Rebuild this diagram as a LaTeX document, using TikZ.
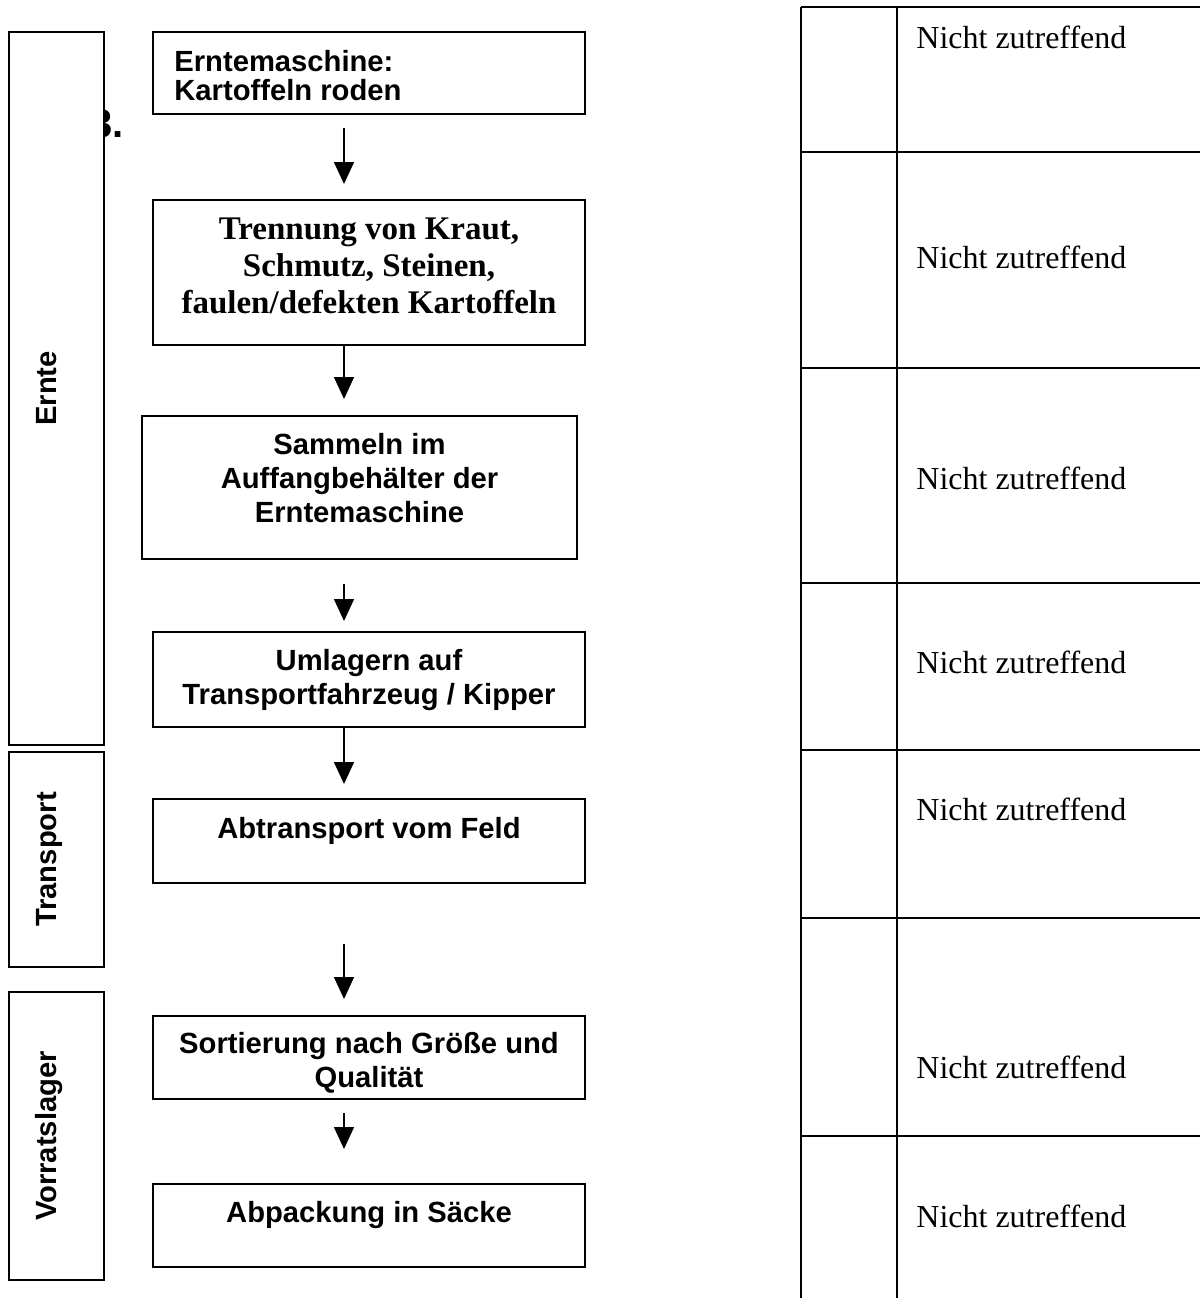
\documentclass[tikz,border=0pt]{standalone}
\usepackage{fontspec}
\setmainfont{Liberation Serif}
\setsansfont{Liberation Sans}
\usetikzlibrary{arrows.meta,positioning}

\tikzset{
  stepbox/.style={draw, line width=1pt, minimum width=216pt, inner sep=0pt},
  steptext/.style={font=\sffamily\bfseries\fontsize{14.6}{17}\selectfont, align=center, inner sep=0pt},
  serifstep/.style={font=\bfseries\fontsize{16.5}{18.5}\selectfont, align=center, inner sep=0pt},
  phase/.style={draw, fill=white, line width=1pt, rotate=90, minimum height=47.5pt, inner sep=0pt,
    font=\sffamily\bfseries\fontsize{14.6}{17}\selectfont, text height=10.5pt, text depth=10.5pt},
  flow/.style={line width=0.75pt, -{Triangle[width=10pt,length=11pt]}},
  grid/.style={line width=1pt},
  cell/.style={font=\fontsize{16}{19}\selectfont, anchor=west, inner sep=0pt}
}

\begin{document}
\begin{tikzpicture}[x=0.5pt,y=-0.5pt]
    \useasboundingbox (0,0) rectangle (1200,1298);

    % number, half hidden behind the first phase box
    \node[font=\sffamily\bfseries\fontsize{20}{24}\selectfont, anchor=base east, inner sep=0pt] (num) at (124,137) {3.};

    % Phases on the left
    \node[phase, minimum width=356.5pt] (ernte) at (56.5,388.5) {Ernte};
    \node[phase, minimum width=107.5pt] (transport) at (56.5,859.5) {Transport};
    \node[phase, minimum width=144pt] (lager) at (56.5,1136) {Vorratslager};

    % Process steps
    \node[stepbox, minimum height=41pt] (b1) at (369,73) {};
    \node[steptext, font=\sffamily\bfseries\fontsize{14.6}{14.6}\selectfont, align=left,
          below right=9.5pt and 11pt of b1.north west, anchor=north west] (t1)
        {Erntemaschine:\\Kartoffeln roden};

    \node[stepbox, minimum height=72.5pt] (b2) at (369,272.5) {};
    \node[serifstep, below=9pt of b2.north] (t2)
        {Trennung von Kraut,\\Schmutz, Steinen,\\faulen/defekten Kartoffeln};

    \node[stepbox, minimum width=217.5pt, minimum height=71.5pt] (b3) at (359.5,487.5) {};
    \node[steptext, below=9pt of b3.north] (t3)
        {Sammeln im\\Auffangbehälter der\\Erntemaschine};

    \node[stepbox, minimum height=47.5pt] (b4) at (369,679.5) {};
    \node[steptext, below=9pt of b4.north] (t4)
        {Umlagern auf\\Transportfahrzeug / Kipper};

    \node[stepbox, minimum height=42pt] (b5) at (369,841) {};
    \node[steptext, below=9.5pt of b5.north] (t5) {Abtransport vom Feld};

    \node[stepbox, minimum height=41.5pt] (b6) at (369,1057.5) {};
    \node[steptext, below=8.5pt of b6.north] (t6)
        {Sortierung nach Größe und\\Qualität};

    \node[stepbox, minimum height=41.5pt] (b7) at (369,1225.5) {};
    \node[steptext, below=9pt of b7.north] (t7) {Abpackung in Säcke};

    % Arrows between the steps
    \coordinate (ax) at (344,0);
    \foreach \from/\to/\gapa/\gapb in {b1/b2/6.5/7.5, b2/b3/0/8, b3/b4/12/5,
                                       b4/b5/0/7, b5/b6/30/8, b6/b7/6.5/17}
        \draw[flow, shorten <=\gapa pt, shorten >=\gapb pt] (\from.south -| ax) -- (\to.north -| ax);

    % Table on the right
    \foreach \y in {7,152,368,583,750,918,1136}
        \draw[grid] (801,\y) -- (1200,\y);
    \draw[grid] (801,7) -- (801,1298);
    \draw[grid] (897,7) -- (897,1298);
    \foreach \y [count=\i] in {37,257,478,662,809,1067,1216}
        \node[cell] (c\i) at (916,\y) {Nicht zutreffend};

\end{tikzpicture}
\end{document}
